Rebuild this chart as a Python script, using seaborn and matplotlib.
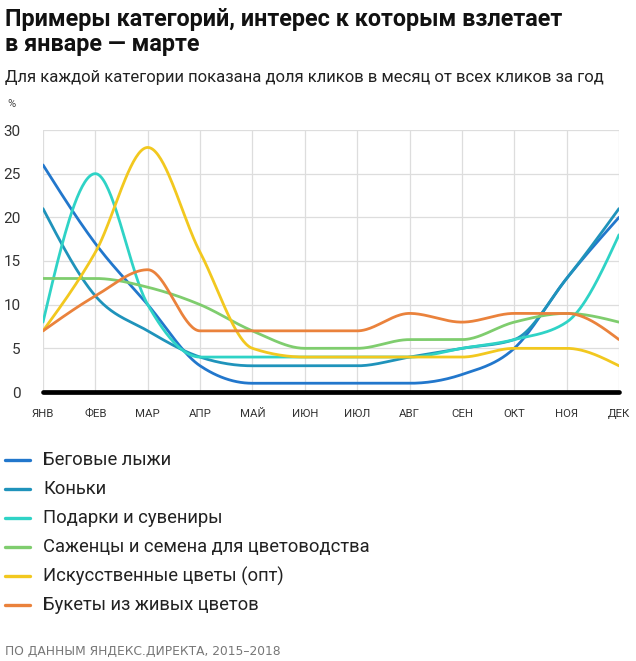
import numpy as np
import pandas as pd
import matplotlib
matplotlib.use("Agg")
import matplotlib.pyplot as plt
from matplotlib.lines import Line2D
import seaborn as sns

# ---------------- data ----------------
months = ["ЯНВ", "ФЕВ", "МАР", "АПР", "МАЙ", "ИЮН", "ИЮЛ", "АВГ", "СЕН", "ОКТ", "НОЯ", "ДЕК"]
categories = [
    "Беговые лыжи",
    "Коньки",
    "Подарки и сувениры",
    "Саженцы и семена для цветоводства",
    "Искусственные цветы (опт)",
    "Букеты из живых цветов",
]
ski = [26, 17, 10, 3, 1, 1, 1, 1, 2, 5, 13, 20]
skates = [21, 11, 7, 4, 3, 3, 3, 4, 5, 6, 13, 21]
gifts = [8, 25, 10, 4, 4, 4, 4, 4, 5, 6, 8, 18]
seedlings = [13, 13, 12, 10, 7, 5, 5, 6, 6, 8, 9, 8]
artificial = [7, 16, 28, 16, 5, 4, 4, 4, 4, 5, 5, 3]
bouquets = [7, 11, 14, 7, 7, 7, 7, 9, 8, 9, 9, 6]
series_values = [ski, skates, gifts, seedlings, artificial, bouquets]
colors = ["#2277cc", "#1f93bb", "#2fd3c6", "#7fcd6e", "#f2c81f", "#ea823c"]

title = "Примеры категорий, интерес к которым взлетает\nв январе — марте"
subtitle = "Для каждой категории показана доля кликов в месяц от всех кликов за год"
source = "ПО ДАННЫМ ЯНДЕКС.ДИРЕКТА, 2015–2018"


# monotone-x curve (same shape rule as d3.curveMonotoneX), used only for drawing
def monotone_curve(y, n=40):
    y = np.asarray(y, float)
    x = np.arange(len(y), dtype=float)
    h = np.diff(x)
    s = np.diff(y) / h
    t = np.zeros_like(y)
    sg = lambda v: -1.0 if v < 0 else 1.0
    for i in range(1, len(y) - 1):
        p = (s[i - 1] * h[i] + s[i] * h[i - 1]) / (h[i - 1] + h[i])
        t[i] = (sg(s[i - 1]) + sg(s[i])) * min(abs(s[i - 1]), abs(s[i]), 0.5 * abs(p))
    t[0] = (3 * s[0] - t[1]) / 2
    t[-1] = (3 * s[-1] - t[-2]) / 2
    xs, ys = [], []
    for i in range(len(y) - 1):
        u = np.linspace(0, 1, n, endpoint=(i == len(y) - 2))
        h00 = 2 * u**3 - 3 * u**2 + 1
        h10 = u**3 - 2 * u**2 + u
        h01 = -2 * u**3 + 3 * u**2
        h11 = u**3 - u**2
        xs.append(x[i] + u * h[i])
        ys.append(h00 * y[i] + h10 * h[i] * t[i] + h01 * y[i + 1] + h11 * h[i] * t[i + 1])
    return np.concatenate(xs), np.concatenate(ys)


rows = []
for cat, vals in zip(categories, series_values):
    xs, ys = monotone_curve(vals)
    rows.append(pd.DataFrame({"x": xs, "y": ys, "cat": cat}))
df = pd.concat(rows, ignore_index=True)

# ---------------- figure ----------------
sns.set_theme(style="white")
plt.rcParams["font.family"] = ["Roboto", "DejaVu Sans"]

W, H = 636, 661
fig = plt.figure(figsize=(W / 100, H / 100), dpi=100)
ax = fig.add_axes([43 / W, 1 - 392 / H, (619 - 43) / W, (392 - 130) / H])

sns.lineplot(data=df, x="x", y="y", hue="cat", hue_order=categories,
             palette=colors, linewidth=2.0, legend=False, ax=ax, sort=False)

ax.set_xlim(0, 11)
ax.set_ylim(0, 30)
ax.set_xticks(range(12))
ax.set_xticklabels(months, fontsize=8.2, color="#333333")
ax.set_yticks([0, 5, 10, 15, 20, 25, 30])
ax.set_yticklabels(["0", "5", "10", "15", "20", "25", "30"], fontsize=11, color="#333333")
ax.tick_params(axis="x", length=0, pad=12)
ax.tick_params(axis="y", length=0, pad=16)
ax.set_xlabel("")
ax.set_ylabel("")
ax.grid(True, color="#dddddd", linewidth=0.9)
ax.set_axisbelow(True)
for sp in ax.spines.values():
    sp.set_visible(False)
ax.axhline(0, color="black", linewidth=3.4, clip_on=False, zorder=5)

# titles
fig.text(5 / W, 1 - 8 / H, title, fontsize=16.8, fontweight="bold", color="#111111",
         va="top", ha="left", linespacing=1.12)
fig.text(5 / W, 1 - 70 / H, subtitle, fontsize=12, color="#222222", va="top", ha="left")
fig.text(7 / W, 1 - 104 / H, "%", fontsize=8, color="#444444", va="center", ha="left")

# legend
y0 = 460
for i, (cat, c) in enumerate(zip(categories, colors)):
    yy = 1 - (y0 + 29 * i) / H
    fig.add_artist(Line2D([5 / W, 30 / W], [yy, yy], color=c, linewidth=2.4,
                          transform=fig.transFigure))
    fig.text(43 / W, yy, cat, fontsize=13.2, color="#222222", va="center", ha="left")

fig.text(5 / W, 1 - 651 / H, source, fontsize=8.8, color="#777777", va="center", ha="left",
         family=["DejaVu Sans"])

fig.savefig("out.png", dpi=100)
